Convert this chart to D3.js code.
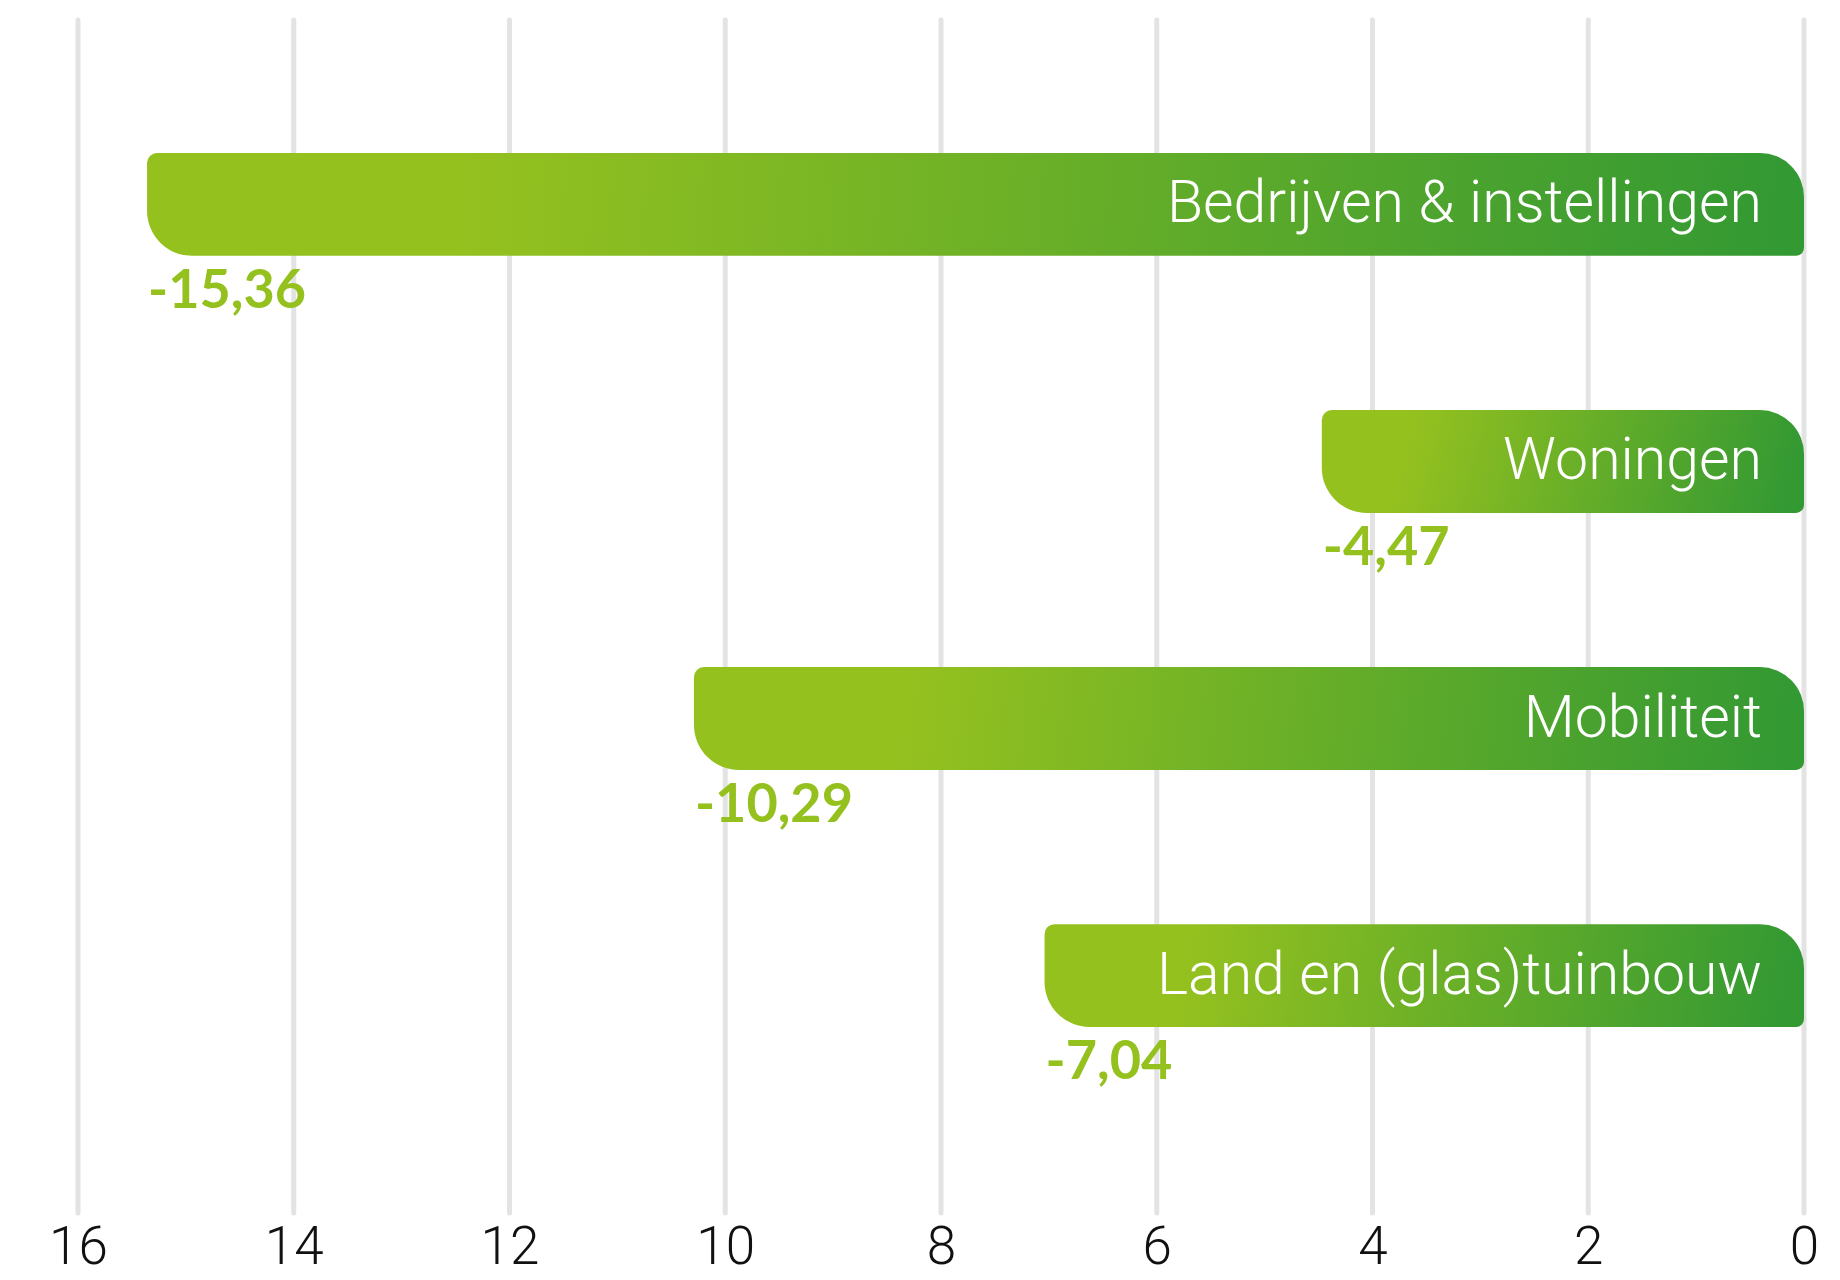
<!DOCTYPE html>
<html>
<head>
<meta charset="utf-8">
<script src="https://cdn.jsdelivr.net/npm/d3@7"></script>
<style>
    body { margin: 0; background: #fff; }
    svg { display: block; }
</style>
</head>
<body>
<div id="chart"></div>
<script>
// Sectors and their change
const categories = ["Bedrijven & instellingen", "Woningen", "Mobiliteit", "Land en (glas)tuinbouw"];
const values = [-15.36, -4.47, -10.29, -7.04];
const valueLabels = ["-15,36", "-4,47", "-10,29", "-7,04"];
const tickValues = [-16, -14, -12, -10, -8, -6, -4, -2, 0];

const width = 1840;
const height = 1280;

const data = categories.map((c, i) => ({ name: c, value: values[i], label: valueLabels[i] }));

const svg = d3.select("#chart").append("svg")
    .attr("width", width)
    .attr("height", height);

const x = d3.scaleLinear()
    .domain([-16, 0])
    .range([78, 1804]);

const y = d3.scaleBand()
    .domain(categories)
    .range([153, 1027])
    .paddingInner(0.6)
    .paddingOuter(0);

// Gradients, one per bar, mostly left to right with a slight tilt
const defs = svg.append("defs");
data.forEach((d, i) => {
    const x0 = x(d.value), x1 = x(0);
    const w = x1 - x0;
    const g = defs.append("linearGradient")
        .attr("id", "grad" + i)
        .attr("gradientUnits", "userSpaceOnUse")
        .attr("x1", x0 + w * 0.15).attr("y1", y(d.name))
        .attr("x2", x1 - 20).attr("y2", y(d.name) + y.bandwidth());
    g.append("stop").attr("offset", "0.05").attr("stop-color", "#95c11f");
    g.append("stop").attr("offset", "1").attr("stop-color", "#339933");
});

// Vertical gridlines
svg.append("g")
    .selectAll("line")
    .data(tickValues)
    .join("line")
    .attr("x1", d => x(d))
    .attr("x2", d => x(d))
    .attr("y1", 20)
    .attr("y2", 1213)
    .attr("stroke", "#e3e3e3")
    .attr("stroke-width", 5)
    .attr("stroke-linecap", "round");

// Axis labels along the bottom
const axis = d3.axisBottom(x)
    .tickValues(tickValues)
    .tickSize(0)
    .tickPadding(0)
    .tickFormat(d => Math.abs(d));

const axisG = svg.append("g")
    .attr("transform", "translate(0,1264)")
    .call(axis);
axisG.select(".domain").remove();
axisG.selectAll("text")
    .attr("dy", 0)
    .style("font-family", "Roboto, sans-serif")
    .style("font-weight", 300)
    .style("font-size", "53px")
    .attr("fill", "#111");

// Bar with mixed corner radii
function barPath(x0, y0, x1, y1) {
    const tl = 10, bl = 45, tr = 44, br = 8;
    return `M${x0 + tl},${y0}` +
        `H${x1 - tr}` +
        `A${tr},${tr} 0 0 1 ${x1},${y0 + tr}` +
        `V${y1 - br}` +
        `A${br},${br} 0 0 1 ${x1 - br},${y1}` +
        `H${x0 + bl}` +
        `A${bl},${bl} 0 0 1 ${x0},${y1 - bl}` +
        `V${y0 + tl}` +
        `A${tl},${tl} 0 0 1 ${x0 + tl},${y0}Z`;
}

const bars = svg.append("g")
    .selectAll("g")
    .data(data)
    .join("g");

bars.append("path")
    .attr("d", d => barPath(x(d.value), y(d.name), x(0), y(d.name) + y.bandwidth()))
    .attr("fill", (d, i) => `url(#grad${i})`);

// Category names inside bars
bars.append("text")
    .attr("x", x(0) - 42)
    .attr("y", d => y(d.name) + y.bandwidth() / 2 + 18)
    .attr("text-anchor", "end")
    .style("font-family", "Roboto, sans-serif")
    .style("font-weight", 300)
    .style("font-size", "59px")
    .attr("fill", "#fff")
    .text(d => d.name);

// Value labels below bar start
bars.append("text")
    .attr("x", d => x(d.value) + 1)
    .attr("y", d => y(d.name) + y.bandwidth() + 52)
    .style("font-family", "Lato, sans-serif")
    .style("font-weight", 700)
    .style("font-size", "54px")
    .attr("fill", "#95c11f")
    .text(d => d.label);
</script>
</body>
</html>
